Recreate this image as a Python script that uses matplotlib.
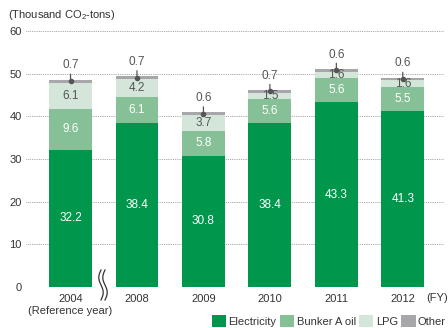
import matplotlib as mpl
mpl.use('Agg')
import matplotlib.pyplot as plt
import numpy as np

plt.rcParams['font.family'] = ['Liberation Sans', 'DejaVu Sans']
plt.rcParams['mathtext.fontset'] = 'custom'
plt.rcParams['mathtext.rm'] = 'Liberation Sans'

years = ['2004', '2008', '2009', '2010', '2011', '2012']
electricity = [32.2, 38.4, 30.8, 38.4, 43.3, 41.3]
bunker_a = [9.6, 6.1, 5.8, 5.6, 5.6, 5.5]
lpg = [6.1, 4.2, 3.7, 1.5, 1.6, 1.6]
other = [0.7, 0.7, 0.6, 0.7, 0.6, 0.6]

series = [('Electricity', electricity, '#00964b', 'white'),
          ('Bunker A oil', bunker_a, '#86c096', 'white'),
          ('LPG', lpg, '#d3e6d9', '#555555'),
          ('Other', other, '#a7a7ab', None)]

txt = '#333333'
fs = 8

fig = plt.figure(figsize=(4.48, 3.28), dpi=100)
ax = fig.add_axes([26 / 448, 41 / 328, 418 / 448, 256 / 328])

x = np.arange(len(years))
width = 0.645
bottom = np.zeros(len(years))
handles = []
for name, vals, color, lab_color in series:
    vals = np.array(vals)
    b = ax.bar(x, vals, width, bottom=bottom, color=color, zorder=3, label=name)
    handles.append(b)
    if lab_color is not None:
        for xi, v, b0 in zip(x, vals, bottom):
            ax.text(xi, b0 + v / 2, f'{v:.1f}', ha='center', va='center',
                    color=lab_color, fontsize=fs + 0.5, zorder=5)
    bottom = bottom + vals

# "Other" labels sit above the stack with a leader line
for xi, v, top in zip(x, other, bottom):
    y = top - v / 2
    ax.plot([xi], [y], 'o', color='#555555', ms=3, zorder=6)
    ax.annotate(f'{v:.1f}', xy=(xi, y), xytext=(0, 7), textcoords='offset points',
                ha='center', va='bottom', fontsize=fs + 0.5, color='#555555', zorder=6,
                arrowprops=dict(arrowstyle='-', color='#555555', lw=0.9,
                                shrinkA=0, shrinkB=0))

ax.set_xlim(-0.67, 5.62)
ax.set_ylim(0, 60)
ax.set_yticks(range(0, 61, 10))
ax.grid(axis='y', linestyle=(0, (1, 1.2)), color='#8a8a8a', lw=0.6, zorder=0)
for s in ax.spines.values():
    s.set_visible(False)
ax.tick_params(length=0, labelsize=fs, colors=txt, pad=3)
ax.set_xticks(x)
ax.set_xticklabels(['2004\n(Reference year)'] + years[1:], fontsize=fs, color=txt,
                   va='top', linespacing=1.3)
ax.tick_params(axis='x', pad=5)

fig.text(8 / 448, 1 - 15 / 328, '(Thousand CO$_2$-tons)', fontsize=fs, color=txt,
         va='center')
fig.text(437 / 448, 1 - 298 / 328, '(FY)', fontsize=fs, color=txt,
         ha='center', va='center')

# axis break between 2004 and 2008
ax.add_patch(mpl.patches.Rectangle((96 / 448, 1 - 292 / 328), 14 / 448, 10 / 328,
                                   transform=fig.transFigure, color='white',
                                   zorder=7, clip_on=False))
t = np.linspace(0, 1, 60)
for dx in (0, 4):
    xs = (101 + dx - 2.2 * np.sin(2 * np.pi * t)) / 448
    ys = 1 - (270 + 30 * t) / 328
    ax.plot(xs, ys, color='#333333', lw=0.9, transform=fig.transFigure,
            clip_on=False, zorder=8)

fig.legend(handles=handles, loc='center right', bbox_to_anchor=(1.0, 1 - 321 / 328),
           ncol=4, frameon=False, fontsize=fs, handlelength=1.3, handleheight=1.3,
           handletextpad=0.2, columnspacing=0.3, labelcolor=txt, borderpad=0.1,
           borderaxespad=0.1)

fig.savefig('out.png', dpi=100)
